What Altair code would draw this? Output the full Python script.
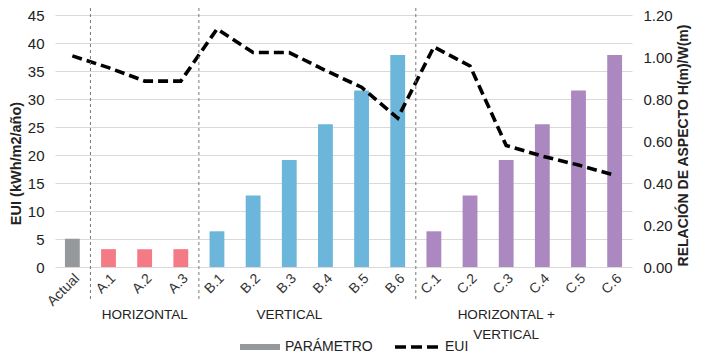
import altair as alt
import pandas as pd

categories = ["Actual", "A.1", "A.2", "A.3", "B.1", "B.2", "B.3", "B.4", "B.5", "B.6",
              "C.1", "C.2", "C.3", "C.4", "C.5", "C.6"]
groups = ["Actual", "A", "A", "A", "B", "B", "B", "B", "B", "B", "C", "C", "C", "C", "C", "C"]
# Aspect ratio H(m)/W(m) (right axis) -> bars "PARÁMETRO"
aspect = [0.135, 0.085, 0.085, 0.085, 0.17, 0.34, 0.51, 0.68, 0.84, 1.01,
          0.17, 0.34, 0.51, 0.68, 0.84, 1.01]
# EUI kWh/m2/año (left axis) -> dashed line
eui = [37.7, 35.6, 33.2, 33.2, 42.5, 38.3, 38.3, 35.1, 32.1, 26.6,
       39.3, 35.9, 21.7, 19.8, 18.2, 16.4]
group_colors = {"Actual": "#95999b", "A": "#f47b86", "B": "#6cb5db", "C": "#ac88c0"}
separators = ["A.1", "B.1", "C.1"]
group_labels = [("A.2", ["HORIZONTAL"]), ("B.3", ["VERTICAL"]), ("C.3", ["HORIZONTAL +", "VERTICAL"])]

FONT = "Liberation Sans"
W, H = 577, 252
P_IN, P_OUT = 0.59, 0.275
STEP = W / (len(categories) - P_IN + 2 * P_OUT)

df = pd.DataFrame({"cat": categories, "grp": groups, "aspect": aspect, "eui": eui})
df["color"] = df["grp"].map(group_colors)

xenc = alt.X("cat:N", sort=categories, title=None,
             scale=alt.Scale(paddingInner=P_IN, paddingOuter=P_OUT, align=0.5),
             axis=alt.Axis(labelAngle=-45, labelFontSize=14, labelColor="#333333",
                           labelFont=FONT, domain=False, ticks=False, labelPadding=9,
                           labelOffset=5, labelAlign="right", labelBaseline="middle"))

bars = alt.Chart(df).mark_bar().encode(
    x=xenc,
    y=alt.Y("aspect:Q", scale=alt.Scale(domain=[0, 1.2], nice=False),
            axis=alt.Axis(orient="right", title="RELACIÓN DE ASPECTO H(m)/W(m)",
                          values=[0, 0.2, 0.4, 0.6, 0.8, 1.0, 1.2], format=".2f",
                          grid=False, domain=False, ticks=False, labelFontSize=15,
                          labelColor="#222222", labelFont=FONT, titleFont=FONT,
                          titleFontSize=14, titleFontWeight="bold", titleColor="#222222",
                          titleAngle=-90, titleBaseline="top", titleY=130,
                          labelPadding=11, titlePadding=4)),
    color=alt.Color("color:N", scale=None),
)

line = alt.Chart(df).mark_line(color="black", strokeWidth=3.6, strokeDash=[10, 5]).encode(
    x=alt.X("cat:N", sort=categories),
    y=alt.Y("eui:Q", scale=alt.Scale(domain=[0, 45], nice=False),
            axis=alt.Axis(orient="left", title="EUI (kWh/m2/año)",
                          values=list(range(0, 50, 5)), grid=True, gridColor="#d9d9d9",
                          gridWidth=1.2, domain=False, ticks=False, labelFontSize=15,
                          labelColor="#222222", labelFont=FONT, titleFont=FONT,
                          titleFontSize=14.5, titleFontWeight="bold", titleColor="#222222",
                          titleY=148, labelPadding=11, titlePadding=4)),
)

sep_df = pd.DataFrame({"cat": separators})
seps = alt.Chart(sep_df).mark_rule(color="#777777", strokeDash=[3, 3], strokeWidth=1,
                                   xOffset=-STEP * P_IN / 2).encode(
    x=alt.X("cat:N", sort=categories, bandPosition=0),
    y=alt.value(-7), y2=alt.value(H + 34),
)

gl_df = pd.DataFrame({"cat": [g[0] for g in group_labels], "txt": [g[1] for g in group_labels]})
glabels = alt.Chart(gl_df).mark_text(font=FONT, fontSize=13.5, color="#222222",
                                     baseline="middle", lineHeight=20).encode(
    x=alt.X("cat:N", sort=categories),
    y=alt.value(H + 48),
    text="txt",
)

# manual legend
LY = H + 80
leg_rect = alt.Chart(pd.DataFrame({"a": [0]})).mark_rect(color="#95999b").encode(
    x=alt.value(185), x2=alt.value(225), y=alt.value(LY - 3), y2=alt.value(LY + 3))
leg_rect_t = alt.Chart(pd.DataFrame({"t": ["PARÁMETRO"]})).mark_text(
    font=FONT, fontSize=14, color="#222222", align="left", baseline="middle").encode(
    x=alt.value(230), y=alt.value(LY), text="t")
leg_line = alt.Chart(pd.DataFrame({"a": [0]})).mark_rule(
    color="black", strokeWidth=3.6, strokeDash=[11, 5]).encode(
    x=alt.value(340), x2=alt.value(383), y=alt.value(LY))
leg_line_t = alt.Chart(pd.DataFrame({"t": ["EUI"]})).mark_text(
    font=FONT, fontSize=14, color="#222222", align="left", baseline="middle").encode(
    x=alt.value(390), y=alt.value(LY), text="t")

chart = alt.layer(bars, line, seps, glabels, leg_rect, leg_rect_t, leg_line, leg_line_t).resolve_scale(
    y="independent"
).properties(
    width=W, height=H,
    autosize=alt.AutoSizeParams(type="none"),
    padding={"left": 47, "top": 7, "right": 62, "bottom": 87},
    background="white",
).configure_view(stroke=None)

chart.save("out.html", embed_options={"renderer": "svg", "actions": False})
